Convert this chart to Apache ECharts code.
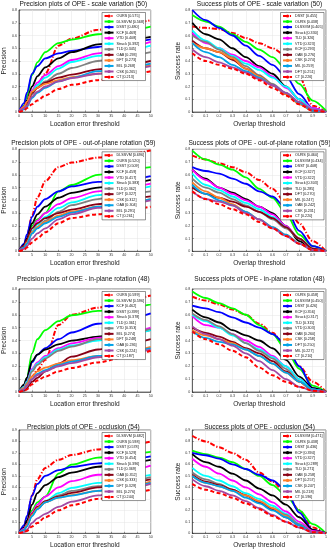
<!DOCTYPE html>
<html>
<head>
<meta charset="utf-8">
<script src="https://cdn.jsdelivr.net/npm/echarts@6/dist/echarts.min.js"></script>
<style>html,body{margin:0;padding:0;background:#fff}#c{width:330px;height:550px}</style>
</head>
<body>
<div id="c"></div>
<script>
// ---------- thresholds / tick data ----------
const precThresholds = [0, 2, 3, 5, 7, 10, 15, 20, 30, 40, 50];
const overlapThresholds = [0, 0.1, 0.2, 0.3, 0.4, 0.5, 0.6, 0.7, 0.8, 0.9, 1.0];

// ---------- scale variation ----------
const svPrecNames  = ['OURS','DLSSVM','DSST','KCF','VTD','Struck','TLD','OAB','DFT','MIL','CSK','CT'];
const svPrecScores = [0.575,0.568,0.480,0.469,0.408,0.392,0.345,0.293,0.273,0.268,0.265,0.213];
const svPrecCurves = [
  [0,0.03,0.07,0.15,0.21,0.30,0.52,0.575,0.645,0.69,0.72],
  [0,0.05,0.12,0.29,0.39,0.47,0.54,0.568,0.61,0.635,0.67],
  [0,0.07,0.15,0.30,0.36,0.42,0.46,0.48,0.51,0.545,0.57],
  [0,0.04,0.09,0.20,0.28,0.35,0.42,0.469,0.53,0.565,0.59],
  [0,0.04,0.08,0.17,0.23,0.29,0.36,0.408,0.46,0.505,0.55],
  [0,0.03,0.07,0.16,0.21,0.27,0.34,0.392,0.44,0.48,0.52],
  [0,0.03,0.06,0.14,0.19,0.24,0.30,0.345,0.40,0.44,0.47],
  [0,0.03,0.07,0.15,0.19,0.23,0.27,0.293,0.335,0.37,0.40],
  [0,0.04,0.08,0.16,0.19,0.22,0.25,0.273,0.30,0.33,0.37],
  [0,0.02,0.04,0.11,0.15,0.19,0.24,0.268,0.32,0.35,0.38],
  [0,0.03,0.05,0.12,0.16,0.20,0.24,0.265,0.30,0.33,0.36],
  [0,0.01,0.03,0.06,0.09,0.13,0.18,0.213,0.25,0.29,0.32]
];
const svSuccNames  = ['DSST','OURS','DLSSVM','Struck','TLD','VTD','KCF','OAB','CSK','MIL','DFT','CT'];
const svSuccScores = [0.455,0.438,0.405,0.330,0.326,0.323,0.293,0.276,0.274,0.259,0.251,0.226];
const svSuccCurves = [
  [0.67,0.66,0.65,0.62,0.58,0.54,0.50,0.44,0.28,0.05,0],
  [0.76,0.71,0.67,0.61,0.55,0.49,0.43,0.34,0.22,0.09,0.01],
  [0.80,0.72,0.66,0.60,0.52,0.44,0.37,0.28,0.14,0.03,0],
  [0.70,0.61,0.57,0.50,0.43,0.36,0.30,0.20,0.10,0.02,0],
  [0.62,0.54,0.50,0.45,0.40,0.35,0.28,0.19,0.10,0.03,0],
  [0.64,0.56,0.50,0.44,0.38,0.33,0.27,0.20,0.10,0.02,0],
  [0.60,0.55,0.49,0.43,0.36,0.29,0.22,0.15,0.07,0.01,0],
  [0.56,0.50,0.47,0.41,0.34,0.28,0.21,0.14,0.07,0.01,0],
  [0.54,0.50,0.47,0.42,0.34,0.28,0.21,0.14,0.06,0.01,0],
  [0.54,0.47,0.43,0.37,0.32,0.27,0.21,0.15,0.07,0.01,0],
  [0.49,0.43,0.39,0.35,0.31,0.26,0.21,0.15,0.08,0.02,0],
  [0.46,0.40,0.37,0.34,0.30,0.25,0.19,0.13,0.06,0.01,0]
];

// ---------- out-of-plane rotation ----------
const oprPrecNames  = ['DLSSVM','OURS','DSST','KCF','VTD','Struck','TLD','DFT','CSK','OAB','MIL','CT'];
const oprPrecScores = [0.696,0.520,0.509,0.459,0.417,0.383,0.362,0.327,0.312,0.304,0.291,0.261];
const oprPrecCurves = [
  [0,0.05,0.11,0.28,0.42,0.55,0.66,0.696,0.735,0.76,0.79],
  [0,0.05,0.10,0.20,0.25,0.30,0.47,0.52,0.60,0.64,0.66],
  [0,0.06,0.13,0.27,0.35,0.41,0.47,0.509,0.545,0.56,0.59],
  [0,0.05,0.10,0.22,0.29,0.35,0.42,0.459,0.50,0.53,0.56],
  [0,0.04,0.08,0.18,0.24,0.30,0.37,0.417,0.47,0.50,0.53],
  [0,0.03,0.07,0.16,0.21,0.27,0.34,0.383,0.44,0.48,0.51],
  [0,0.03,0.06,0.14,0.19,0.24,0.31,0.362,0.41,0.45,0.47],
  [0,0.04,0.09,0.18,0.22,0.26,0.30,0.327,0.37,0.41,0.43],
  [0,0.03,0.07,0.15,0.19,0.23,0.28,0.312,0.35,0.38,0.41],
  [0,0.03,0.06,0.14,0.18,0.22,0.27,0.304,0.35,0.38,0.41],
  [0,0.02,0.04,0.10,0.14,0.18,0.25,0.291,0.34,0.37,0.40],
  [0,0.01,0.03,0.07,0.10,0.15,0.22,0.261,0.29,0.32,0.35]
];
const oprSuccNames  = ['OURS','DLSSVM','DSST','KCF','VTD','Struck','TLD','DFT','MIL','OAB','CSK','CT'];
const oprSuccScores = [0.460,0.434,0.408,0.327,0.322,0.303,0.285,0.270,0.247,0.242,0.231,0.220];
const oprSuccCurves = [
  [0.75,0.72,0.69,0.66,0.62,0.56,0.49,0.38,0.22,0.08,0],
  [0.79,0.72,0.68,0.64,0.58,0.49,0.42,0.30,0.13,0.04,0],
  [0.66,0.63,0.61,0.57,0.53,0.47,0.43,0.34,0.16,0.04,0],
  [0.64,0.57,0.50,0.46,0.41,0.35,0.30,0.20,0.08,0.01,0],
  [0.64,0.56,0.50,0.45,0.40,0.35,0.29,0.20,0.10,0.02,0],
  [0.61,0.52,0.48,0.43,0.38,0.33,0.27,0.19,0.10,0.02,0],
  [0.57,0.50,0.46,0.41,0.36,0.31,0.25,0.18,0.10,0.02,0],
  [0.50,0.45,0.42,0.39,0.35,0.31,0.26,0.19,0.10,0.02,0],
  [0.54,0.47,0.42,0.37,0.31,0.25,0.19,0.13,0.06,0.01,0],
  [0.52,0.45,0.40,0.36,0.31,0.25,0.19,0.13,0.06,0.01,0],
  [0.47,0.41,0.39,0.36,0.30,0.25,0.18,0.12,0.06,0.01,0],
  [0.47,0.41,0.37,0.33,0.29,0.23,0.18,0.12,0.06,0.01,0]
];

// ---------- in-plane rotation ----------
const iprPrecNames  = ['OURS','DLSSVM','KCF','DSST','Struck','TLD','VTD','MIL','DFT','OAB','CSK','CT'];
const iprPrecScores = [0.599,0.596,0.462,0.399,0.378,0.361,0.353,0.274,0.248,0.236,0.224,0.187];
const iprPrecCurves = [
  [0,0.02,0.05,0.12,0.17,0.25,0.52,0.599,0.655,0.71,0.75],
  [0,0.05,0.11,0.30,0.41,0.48,0.55,0.596,0.63,0.65,0.68],
  [0,0.05,0.10,0.23,0.29,0.34,0.41,0.462,0.53,0.56,0.61],
  [0,0.06,0.11,0.24,0.29,0.33,0.37,0.399,0.43,0.46,0.48],
  [0,0.04,0.08,0.18,0.23,0.28,0.34,0.378,0.42,0.45,0.50],
  [0,0.04,0.08,0.17,0.22,0.27,0.33,0.361,0.40,0.44,0.48],
  [0,0.03,0.07,0.16,0.21,0.26,0.32,0.353,0.41,0.45,0.49],
  [0,0.01,0.03,0.08,0.11,0.16,0.22,0.274,0.33,0.37,0.41],
  [0,0.03,0.06,0.12,0.16,0.19,0.22,0.248,0.28,0.31,0.35],
  [0,0.02,0.05,0.10,0.14,0.17,0.21,0.236,0.28,0.31,0.34],
  [0,0.02,0.05,0.10,0.13,0.16,0.20,0.224,0.27,0.30,0.33],
  [0,0.01,0.02,0.06,0.09,0.12,0.16,0.187,0.23,0.27,0.32]
];
const iprSuccNames  = ['OURS','DLSSVM','DSST','KCF','Struck','TLD','VTD','OAB','CSK','DFT','MIL','CT'];
const iprSuccScores = [0.458,0.450,0.426,0.356,0.317,0.315,0.303,0.260,0.258,0.250,0.227,0.210];
const iprSuccCurves = [
  [0.74,0.71,0.68,0.64,0.60,0.53,0.46,0.35,0.20,0.08,0],
  [0.78,0.73,0.69,0.65,0.60,0.52,0.45,0.33,0.18,0.05,0],
  [0.67,0.65,0.62,0.58,0.54,0.50,0.45,0.37,0.20,0.03,0],
  [0.64,0.58,0.54,0.48,0.44,0.40,0.34,0.25,0.12,0.03,0],
  [0.59,0.52,0.50,0.45,0.40,0.35,0.28,0.20,0.10,0.02,0],
  [0.60,0.55,0.50,0.44,0.38,0.33,0.27,0.20,0.10,0.02,0],
  [0.61,0.56,0.51,0.45,0.38,0.32,0.26,0.18,0.08,0.01,0],
  [0.50,0.46,0.43,0.39,0.34,0.30,0.24,0.16,0.08,0.01,0],
  [0.48,0.44,0.41,0.38,0.33,0.28,0.22,0.15,0.08,0.01,0],
  [0.47,0.42,0.39,0.37,0.33,0.28,0.22,0.15,0.08,0.02,0],
  [0.51,0.45,0.41,0.36,0.30,0.24,0.17,0.10,0.04,0.01,0],
  [0.47,0.41,0.37,0.32,0.27,0.19,0.13,0.08,0.04,0.01,0]
];

// ---------- occlusion ----------
const occPrecNames  = ['DLSSVM','OURS','DSST','KCF','VTD','Struck','TLD','OAB','CSK','DFT','MIL','CT'];
const occPrecScores = [0.682,0.598,0.578,0.529,0.454,0.396,0.369,0.352,0.333,0.329,0.276,0.244];
const occPrecCurves = [
  [0,0.06,0.13,0.33,0.47,0.57,0.64,0.682,0.73,0.76,0.80],
  [0,0.04,0.09,0.20,0.27,0.32,0.52,0.598,0.66,0.69,0.71],
  [0,0.07,0.15,0.33,0.43,0.50,0.55,0.578,0.61,0.64,0.67],
  [0,0.05,0.11,0.25,0.35,0.42,0.49,0.529,0.58,0.61,0.64],
  [0,0.04,0.08,0.18,0.25,0.32,0.40,0.454,0.51,0.54,0.59],
  [0,0.03,0.07,0.16,0.22,0.28,0.35,0.396,0.44,0.48,0.51],
  [0,0.03,0.07,0.16,0.21,0.27,0.33,0.369,0.41,0.45,0.49],
  [0,0.03,0.07,0.17,0.23,0.28,0.32,0.352,0.40,0.44,0.47],
  [0,0.03,0.07,0.16,0.22,0.27,0.31,0.333,0.37,0.41,0.45],
  [0,0.03,0.06,0.15,0.21,0.27,0.31,0.329,0.37,0.40,0.44],
  [0,0.01,0.03,0.09,0.13,0.17,0.23,0.276,0.33,0.38,0.43],
  [0,0.01,0.02,0.06,0.09,0.14,0.20,0.244,0.30,0.34,0.38]
];
const occSuccNames  = ['DLSSVM','OURS','DSST','KCF','VTD','Struck','TLD','OAB','DFT','CSK','MIL','CT'];
const occSuccScores = [0.471,0.438,0.436,0.394,0.327,0.289,0.271,0.258,0.257,0.247,0.218,0.196];
const occSuccCurves = [
  [0.85,0.80,0.75,0.70,0.64,0.53,0.45,0.35,0.20,0.05,0],
  [0.72,0.69,0.66,0.62,0.56,0.50,0.42,0.33,0.20,0.08,0],
  [0.70,0.68,0.65,0.60,0.56,0.51,0.46,0.38,0.18,0.03,0],
  [0.69,0.62,0.58,0.52,0.46,0.39,0.33,0.25,0.14,0.03,0],
  [0.65,0.58,0.52,0.46,0.40,0.34,0.27,0.19,0.10,0.02,0],
  [0.57,0.50,0.46,0.41,0.35,0.30,0.24,0.17,0.08,0.01,0],
  [0.53,0.47,0.43,0.38,0.33,0.28,0.22,0.16,0.08,0.01,0],
  [0.51,0.45,0.42,0.38,0.33,0.27,0.21,0.14,0.07,0.01,0],
  [0.50,0.44,0.41,0.37,0.33,0.28,0.22,0.15,0.07,0.01,0],
  [0.50,0.44,0.41,0.37,0.31,0.26,0.20,0.14,0.07,0.01,0],
  [0.47,0.41,0.37,0.33,0.28,0.22,0.16,0.10,0.05,0.01,0],
  [0.43,0.38,0.35,0.31,0.26,0.21,0.15,0.10,0.05,0.01,0]
];

// ---------- styling by rank ----------
const rankColors = ['#ff0000','#00ff00','#0000ff','#000000','#ff00ff','#00ffff','#808080','#880015','#ff7f27','#00a2e8','#a349a4','#ff0000'];

// ---------- layout ----------
const FONT = 'Liberation Sans, Arial, sans-serif';
const colLeft = [16, 192.3];
const colWidth = [134.7, 134.4];
const rowTop = [10, 149.3, 289, 430];
const rowHeight = [102, 102, 103, 103.3];
const titleTop = [0.8, 140, 275.4, 423.8];
const legendRight = [184.5, 6];

const panels = [
  {t:'Precision plots of OPE - scale variation (50)', k:'p', n:svPrecNames, s:svPrecScores, c:svPrecCurves, ymax:0.8},
  {t:'Success plots of OPE - scale variation (50)', k:'s', n:svSuccNames, s:svSuccScores, c:svSuccCurves, ymax:0.8},
  {t:'Precision plots of OPE - out-of-plane rotation (59)', k:'p', n:oprPrecNames, s:oprPrecScores, c:oprPrecCurves, ymax:0.8},
  {t:'Success plots of OPE - out-of-plane rotation (59)', k:'s', n:oprSuccNames, s:oprSuccScores, c:oprSuccCurves, ymax:0.8},
  {t:'Precision plots of OPE - in-plane rotation (48)', k:'p', n:iprPrecNames, s:iprPrecScores, c:iprPrecCurves, ymax:0.8},
  {t:'Success plots of OPE - in-plane rotation (48)', k:'s', n:iprSuccNames, s:iprSuccScores, c:iprSuccCurves, ymax:0.8},
  {t:'Precision plots of OPE - occlusion (54)', k:'p', n:occPrecNames, s:occPrecScores, c:occPrecCurves, ymax:0.9},
  {t:'Success plots of OPE - occlusion (54)', k:'s', n:occSuccNames, s:occSuccScores, c:occSuccCurves, ymax:0.9}
];

const grids = [], xAxes = [], yAxes = [], titles = [], legends = [], series = [];
const axisColor = '#262626';
const fmt = v => (v === 0 ? '0' : (Math.abs(v - Math.round(v)) < 1e-9 ? String(Math.round(v)) : v.toFixed(1)));

panels.forEach((p, i) => {
  const col = i % 2, row = Math.floor(i / 2);
  const isP = p.k === 'p';
  grids.push({left: colLeft[col], top: rowTop[row], width: colWidth[col], height: rowHeight[row],
    show: true, borderColor: axisColor, borderWidth: 0.6, backgroundColor: '#fff'});
  xAxes.push({type: 'value', gridIndex: i, min: 0, max: isP ? 50 : 1, interval: isP ? 5 : 0.1,
    name: isP ? 'Location error threshold' : 'Overlap threshold', nameLocation: 'middle', nameGap: 8.5,
    nameTextStyle: {fontSize: 6.6, color: '#222', fontFamily: FONT},
    axisLine: {lineStyle: {color: axisColor, width: 0.6}},
    axisTick: {inside: true, length: 1.5, lineStyle: {color: axisColor, width: 0.5}},
    axisLabel: {fontSize: 3.6, margin: 2, color: '#333', fontFamily: FONT, formatter: fmt},
    splitLine: {show: true, lineStyle: {color: '#e4e4e4', width: 0.5}}});
  yAxes.push({type: 'value', gridIndex: i, min: 0, max: p.ymax, interval: 0.1,
    name: isP ? 'Precision' : 'Success rate', nameLocation: 'middle', nameGap: isP ? 6 : 7,
    nameTextStyle: {fontSize: 6.6, color: '#222', fontFamily: FONT},
    axisLine: {lineStyle: {color: axisColor, width: 0.6}},
    axisTick: {inside: true, length: 1.5, lineStyle: {color: axisColor, width: 0.5}},
    axisLabel: {fontSize: 3.6, margin: 2, color: '#333', fontFamily: FONT, formatter: fmt},
    splitLine: {show: true, lineStyle: {color: '#e4e4e4', width: 0.5}}});
  titles.push({text: p.t, left: colLeft[col] + colWidth[col] / 2, textAlign: 'center', top: titleTop[row], padding: 0,
    textStyle: {fontSize: 6.6, fontWeight: 'normal', color: '#111', fontFamily: FONT}});
  const names = [];
  const thr = isP ? precThresholds : overlapThresholds;
  p.n.forEach((nm, r) => {
    const sname = i + '|' + nm + ' [' + p.s[r].toFixed(3) + ']';
    names.push(sname);
    let type = 'solid';
    if (r === 0) type = [5, 1.8, 1.2, 1.8];
    if (r === 11) type = [4, 2.5];
    series.push({type: 'line', name: sname, xAxisIndex: i, yAxisIndex: i,
      data: thr.map((t, j) => [t, p.c[r][j]]),
      symbol: 'none', smooth: 0.3, smoothMonotone: 'x', clip: true,
      lineStyle: {color: rankColors[r], width: (r === 0 || r === 11) ? 2 : 1.8, type: type},
      itemStyle: {color: rankColors[r]}, emphasis: {disabled: true}, z: 2});
  });
  legends.push({data: names, orient: 'vertical', right: legendRight[col], top: rowTop[row] + 2.5,
    formatter: n => n.split('|')[1], itemWidth: 9, itemHeight: 4, itemGap: 1.55, padding: [1.5, 1.5],
    backgroundColor: '#fff', borderColor: axisColor, borderWidth: 0.5, selectedMode: false,
    textStyle: {fontSize: 3.7, lineHeight: 4, color: '#111', fontFamily: FONT, padding: [0, 0, 0, -2]},
    z: 10});
});

const chart = echarts.init(document.getElementById('c'), null, {renderer: 'canvas'});
chart.setOption({animation: false, title: titles, grid: grids, xAxis: xAxes, yAxis: yAxes, legend: legends, series: series});
</script>
</body>
</html>
